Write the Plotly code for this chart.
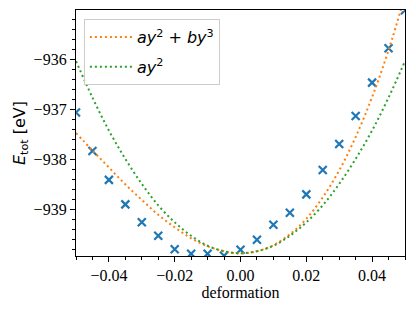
import plotly.graph_objects as go

# deformation grid
deformation = [-0.05, -0.045, -0.04, -0.035, -0.03, -0.025, -0.02, -0.015, -0.01, -0.005,
               0.0, 0.005, 0.01, 0.015, 0.02, 0.025, 0.03, 0.035, 0.04, 0.045, 0.05]

# computed total energies (blue crosses)
E_tot = [-937.06, -937.83, -938.41, -938.90, -939.26, -939.53, -939.80, -939.89, -939.89, -939.93,
         -939.81, -939.61, -939.31, -939.07, -938.70, -938.21, -937.69, -937.13, -936.46, -935.77, -935.01]

# fit curve ay^2 + by^3 (orange)
fit_cubic = [-937.47, -937.82, -938.16, -938.50, -938.81, -939.11, -939.36, -939.58, -939.74, -939.84,
             -939.88, -939.84, -939.72, -939.50, -939.19, -938.76, -938.22, -937.55, -936.75, -935.81, -934.72]

# fit curve ay^2 (green)
fit_quad = [-936.03, -936.76, -937.42, -937.99, -938.49, -938.92, -939.26, -939.53, -939.73, -939.84,
            -939.88, -939.84, -939.73, -939.53, -939.26, -938.92, -938.49, -937.99, -937.42, -936.76, -936.03]

x_ticks = [-0.04, -0.02, 0.0, 0.02, 0.04]
y_ticks = [-939, -938, -937, -936]

SERIF = "Liberation Serif"
SANS = "DejaVu Sans"

fig = go.Figure()
fig.add_trace(go.Scatter(
    x=deformation, y=E_tot, mode="markers", showlegend=False,
    marker=dict(symbol="x-thin", size=8, color="#1f77b4",
                line=dict(width=2.2, color="#1f77b4")),
))
fig.add_trace(go.Scatter(
    x=deformation, y=fit_cubic, mode="lines", legendgroup="a",
    name="<i>ay</i><sup>2</sup> + <i>by</i><sup>3</sup>",
    line=dict(color="#ff7f0e", width=2, dash="2px,3px", shape="spline"),
))
fig.add_trace(go.Scatter(
    x=deformation, y=fit_quad, mode="lines", legendgroup="b",
    name="<i>ay</i><sup>2</sup>",
    line=dict(color="#2ca02c", width=2, dash="2px,3px", shape="spline"),
))

axis_common = dict(
    showline=True, linecolor="black", linewidth=1.3, mirror=True,
    ticks="outside", ticklen=5, tickwidth=1, tickcolor="black",
    showgrid=False, zeroline=False,
    tickfont=dict(family=SERIF, size=16, color="black"),
)

# the page body has an 8px default margin, so the figure is 8px smaller
fig.update_layout(
    width=408, height=304,
    margin=dict(l=68, r=11, t=2, b=56),
    paper_bgcolor="white", plot_bgcolor="white",
    xaxis=dict(
        range=[-0.05, 0.05], tickvals=x_ticks, tickformat=".2f",
        title=dict(text="deformation", font=dict(family=SERIF, size=16, color="black"), standoff=2),
        minor=dict(dtick=0.005, tick0=0, ticks="outside", ticklen=3, tickcolor="black"),
        **axis_common,
    ),
    yaxis=dict(
        range=[-939.935, -935.005], tickvals=y_ticks, tickformat="d",
        title=dict(text="<i>E</i><sub>tot</sub> [eV]", font=dict(family=SANS, size=16, color="black"), standoff=4),
        minor=dict(dtick=0.2, tick0=0, ticks="outside", ticklen=3, tickcolor="black"),
        **axis_common,
    ),
    legend=dict(
        x=0.024, y=0.963, xanchor="left", yanchor="top",
        bgcolor="rgba(255,255,255,0.8)", bordercolor="#cccccc", borderwidth=1,
        font=dict(family=SANS, size=16, color="black"),
        traceorder="grouped", tracegroupgap=6, itemwidth=42,
    ),
)

fig.write_html("out.html")
